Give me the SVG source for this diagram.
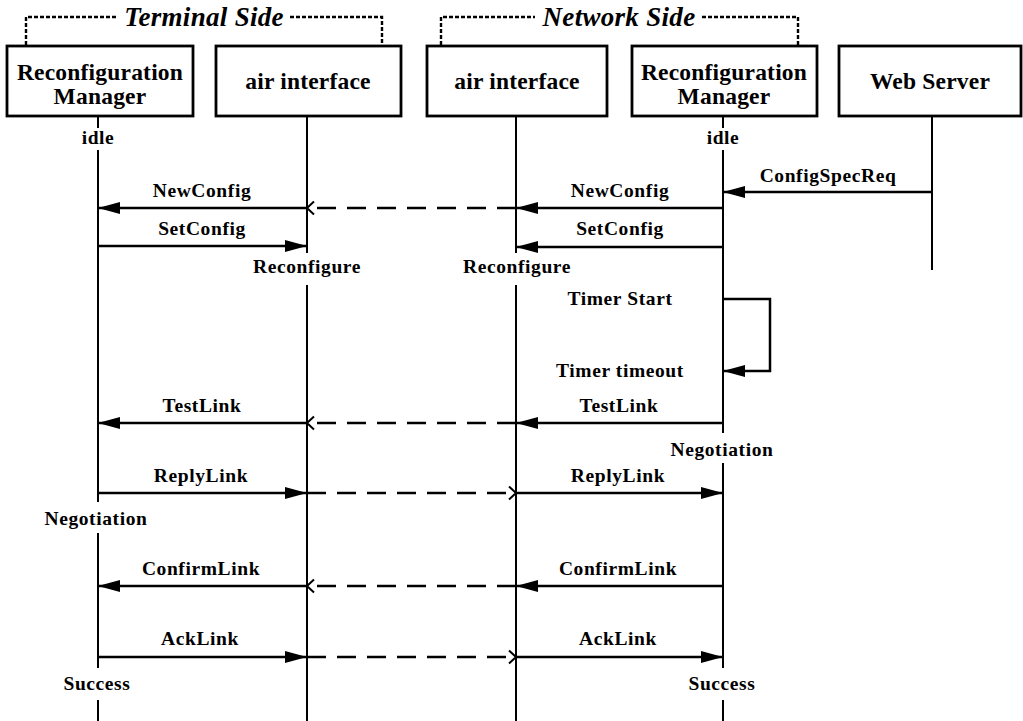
<svg xmlns="http://www.w3.org/2000/svg" width="1023" height="721" viewBox="0 0 1023 721">
<style>
  .box{fill:#fff;stroke:#000;stroke-width:2.8}
  .life{stroke:#000;stroke-width:2;fill:none}
  .title{font-family:"Liberation Serif","Times New Roman",serif;font-weight:bold;font-size:23.5px;letter-spacing:0.2px;text-anchor:middle;fill:#000}
  .side{font-family:"Liberation Serif","Times New Roman",serif;font-weight:bold;font-style:italic;font-size:27px;letter-spacing:0.3px;text-anchor:middle;fill:#000}
  .lbl{font-family:"Liberation Serif","Times New Roman",serif;font-weight:bold;font-size:19.5px;letter-spacing:0.6px;text-anchor:middle;fill:#000}
  .msg{stroke:#000;stroke-width:2.5;fill:none}
  .dash{stroke:#000;stroke-width:2.5;fill:none;stroke-dasharray:19 11}
  .brk{stroke:#000;stroke-width:2.4;fill:none;stroke-dasharray:4 2}
</style>
<defs>
  <marker id="fa" markerUnits="userSpaceOnUse" markerWidth="23" markerHeight="13" refX="22" refY="6.5" orient="auto">
    <path d="M0,0.5 L22,6.5 L0,12.5 z" fill="#000"/>
  </marker>
  <marker id="oa" markerUnits="userSpaceOnUse" markerWidth="10" markerHeight="16" refX="8" refY="8" orient="auto">
    <path d="M1,1.5 L8,8 L1,14.5" fill="none" stroke="#000" stroke-width="2"/>
  </marker>
</defs>

<g id="brackets">
  <path class="brk" d="M26,45 V17 H118"/>
  <path class="brk" d="M290,17 H382 V45"/>
  <text class="side" x="204" y="26">Terminal Side</text>
  <path class="brk" d="M441,45 V17 H535"/>
  <path class="brk" d="M702,17 H798 V45"/>
  <text class="side" x="619" y="26">Network Side</text>
</g>

<g id="term-rm">
  <rect class="box" x="7" y="46" width="186" height="70"/>
  <text class="title" x="100" y="80">Reconfiguration</text>
  <text class="title" x="100" y="104">Manager</text>
  <path class="life" d="M98,116 V128 M98,150 V502 M98,533 V668 M98,700 V721"/>
</g>
<g id="term-air">
  <rect class="box" x="216" y="46" width="185" height="70"/>
  <text class="title" x="308" y="89">air interface</text>
  <path class="life" d="M307,116 V253 M307,285 V721"/>
</g>
<g id="net-air">
  <rect class="box" x="427" y="46" width="180" height="70"/>
  <text class="title" x="517" y="89">air interface</text>
  <path class="life" d="M516,116 V253 M516,285 V721"/>
</g>
<g id="net-rm">
  <rect class="box" x="632" y="46" width="185" height="70"/>
  <text class="title" x="724" y="80">Reconfiguration</text>
  <text class="title" x="724" y="104">Manager</text>
  <path class="life" d="M723,116 V128 M723,150 V433 M723,463 V668 M723,700 V721"/>
</g>
<g id="web-server">
  <rect class="box" x="839" y="46" width="182" height="70"/>
  <text class="title" x="930" y="89">Web Server</text>
  <path class="life" d="M932,116 V270"/>
</g>

<g id="states">
  <text class="lbl" x="98" y="144">idle</text>
  <text class="lbl" x="723" y="144">idle</text>
  <text class="lbl" x="307" y="273">Reconfigure</text>
  <text class="lbl" x="517" y="273">Reconfigure</text>
  <text class="lbl" x="722" y="456">Negotiation</text>
  <text class="lbl" x="96" y="525">Negotiation</text>
  <text class="lbl" x="97" y="690">Success</text>
  <text class="lbl" x="722" y="690">Success</text>
</g>

<g id="connectors">
  <line class="msg" x1="932" y1="192" x2="723" y2="192" marker-end="url(#fa)"/>
  <text class="lbl" x="828" y="182">ConfigSpecReq</text>

  <line class="msg" x1="723" y1="208" x2="516" y2="208" marker-end="url(#fa)"/>
  <text class="lbl" x="620" y="197">NewConfig</text>
  <line class="dash" x1="516" y1="208" x2="307" y2="208" marker-end="url(#oa)"/>
  <line class="msg" x1="307" y1="208" x2="98" y2="208" marker-end="url(#fa)"/>
  <text class="lbl" x="202" y="197">NewConfig</text>

  <line class="msg" x1="98" y1="246" x2="307" y2="246" marker-end="url(#fa)"/>
  <text class="lbl" x="202" y="235">SetConfig</text>
  <line class="msg" x1="723" y1="247" x2="516" y2="247" marker-end="url(#fa)"/>
  <text class="lbl" x="620" y="235">SetConfig</text>

  <path class="msg" d="M723,299 H770 V371 H723" marker-end="url(#fa)"/>
  <text class="lbl" x="620" y="305">Timer Start</text>
  <text class="lbl" x="620" y="377">Timer timeout</text>

  <line class="msg" x1="723" y1="423" x2="516" y2="423" marker-end="url(#fa)"/>
  <text class="lbl" x="619" y="412">TestLink</text>
  <line class="dash" x1="516" y1="423" x2="307" y2="423" marker-end="url(#oa)"/>
  <line class="msg" x1="307" y1="423" x2="98" y2="423" marker-end="url(#fa)"/>
  <text class="lbl" x="202" y="412">TestLink</text>

  <line class="msg" x1="98" y1="493" x2="307" y2="493" marker-end="url(#fa)"/>
  <text class="lbl" x="201" y="482">ReplyLink</text>
  <line class="dash" x1="307" y1="493" x2="516" y2="493" marker-end="url(#oa)"/>
  <line class="msg" x1="516" y1="493" x2="723" y2="493" marker-end="url(#fa)"/>
  <text class="lbl" x="618" y="482">ReplyLink</text>

  <line class="msg" x1="723" y1="586" x2="516" y2="586" marker-end="url(#fa)"/>
  <text class="lbl" x="618" y="575">ConfirmLink</text>
  <line class="dash" x1="516" y1="586" x2="307" y2="586" marker-end="url(#oa)"/>
  <line class="msg" x1="307" y1="586" x2="98" y2="586" marker-end="url(#fa)"/>
  <text class="lbl" x="201" y="575">ConfirmLink</text>

  <line class="msg" x1="98" y1="657" x2="307" y2="657" marker-end="url(#fa)"/>
  <text class="lbl" x="200" y="645">AckLink</text>
  <line class="dash" x1="307" y1="657" x2="516" y2="657" marker-end="url(#oa)"/>
  <line class="msg" x1="516" y1="657" x2="723" y2="657" marker-end="url(#fa)"/>
  <text class="lbl" x="618" y="645">AckLink</text>
</g>
</svg>
